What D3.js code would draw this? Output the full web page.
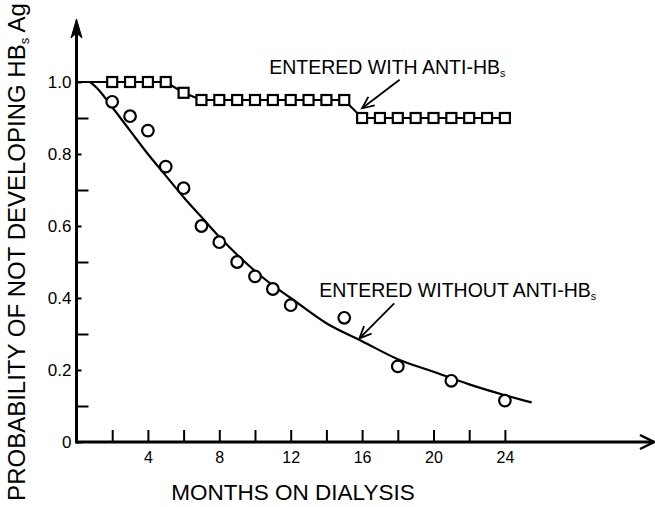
<!DOCTYPE html>
<html>
<head>
<meta charset="utf-8">
<script src="https://cdn.jsdelivr.net/npm/d3@7"></script>
<style>
  body { margin: 0; background: #fff; }
  svg { display: block; }
  text { font-family: "Liberation Sans", Arial, sans-serif; fill: #000; }
</style>
</head>
<body>
<div class="canvas"></div>
<script>
// data
const withAntiMonths = [2, 3, 4, 5, 6, 7, 8, 9, 10, 11, 12, 13, 14, 15, 16, 17, 18, 19, 20, 21, 22, 23, 24];
const withAntiValues = [1.0, 1.0, 1.0, 1.0, 0.97, 0.95, 0.95, 0.95, 0.95, 0.95, 0.95, 0.95, 0.95, 0.95,
                        0.9, 0.9, 0.9, 0.9, 0.9, 0.9, 0.9, 0.9, 0.9];
const withAntiStart = [0, 1.0];

const withoutMonths = [2, 3, 4, 5, 6, 7, 8, 9, 10, 11, 12, 15, 18, 21, 24];
const withoutValues = [0.945, 0.905, 0.865, 0.765, 0.705, 0.60, 0.555, 0.50, 0.46, 0.425, 0.38, 0.345, 0.21, 0.17, 0.115];

// smooth fitted curve through the open circles
const fitMonths = [0, 0.7, 1, 2, 3, 4, 5, 6, 7, 8, 9, 10, 11, 12, 14, 16, 18, 20, 22, 24, 25.5];
const fitValues = [1.0, 1.0, 0.99, 0.93, 0.865, 0.80, 0.74, 0.68, 0.625, 0.57, 0.52, 0.475, 0.435, 0.40,
                   0.33, 0.28, 0.23, 0.195, 0.16, 0.13, 0.11];

const xTicks = [2, 4, 6, 8, 10, 12, 14, 16, 18, 20, 22, 24];
const xLabels = [4, 8, 12, 16, 20, 24];
const yMajor = [0, 0.2, 0.4, 0.6, 0.8, 1.0];
const yMinor = [0.1, 0.3, 0.5, 0.7, 0.9];

const xTitle = 'MONTHS ON DIALYSIS';
const yTitle = ['PROBABILITY OF NOT DEVELOPING HB', 's', ' Ag'];
const labelWith = ['ENTERED WITH ANTI-HB', 's'];
const labelWithout = ['ENTERED WITHOUT ANTI-HB', 's'];

const width = 655, height = 507;
const font = '"Liberation Sans", Arial, sans-serif';

const svg = d3.select('.canvas')
    .append('svg')
    .attr('width', width)
    .attr('height', height);

// scales
const x = d3.scaleLinear().domain([0, 24]).range([76.5, 504.9]);
const y = d3.scaleLinear().domain([0, 1]).range([442, 82]);

// x axis ticks (pointing up)
const xAxis = d3.axisBottom(x)
    .tickValues(xTicks)
    .tickSizeInner(-12)
    .tickSizeOuter(0)
    .tickPadding(10)
    .tickFormat(d => xLabels.includes(d) ? d : '');

const xAxisGroup = svg.append('g')
    .attr('transform', `translate(0, ${y(0)})`)
    .call(xAxis)
    .attr('font-family', font)
    .attr('font-size', 16);
xAxisGroup.select('.domain').remove();
xAxisGroup.selectAll('line').attr('stroke-width', 2).attr('stroke', '#000');

// y axis, major ticks short, minor ticks long
const yAxis = d3.axisLeft(y)
    .tickValues(yMajor)
    .tickSizeInner(-5)
    .tickSizeOuter(0)
    .tickPadding(5)
    .tickFormat(d => d === 0 ? '0' : d3.format('.1f')(d));

const yAxisGroup = svg.append('g')
    .attr('transform', `translate(${x(0)}, 0)`)
    .call(yAxis)
    .attr('font-family', font)
    .attr('font-size', 17);
yAxisGroup.select('.domain').remove();
yAxisGroup.selectAll('line').attr('stroke-width', 2).attr('stroke', '#000');

const yMinorGroup = svg.append('g')
    .attr('transform', `translate(${x(0)}, 0)`)
    .call(d3.axisLeft(y).tickValues(yMinor).tickSizeInner(-12).tickSizeOuter(0).tickFormat(''));
yMinorGroup.select('.domain').remove();
yMinorGroup.selectAll('line').attr('stroke-width', 2).attr('stroke', '#000');

// axis lines with arrows
svg.append('line')
    .attr('x1', x(0)).attr('x2', 654)
    .attr('y1', y(0)).attr('y2', y(0))
    .attr('stroke', '#000').attr('stroke-width', 3);
svg.append('path')
    .attr('d', `M640,${y(0) - 7} L654,${y(0)} L640,${y(0) + 7}`)
    .attr('fill', 'none').attr('stroke', '#000').attr('stroke-width', 2.5);

svg.append('line')
    .attr('x1', x(0)).attr('x2', x(0))
    .attr('y1', y(0) + 1.5).attr('y2', 24)
    .attr('stroke', '#000').attr('stroke-width', 3);
svg.append('path')
    .attr('d', `M${x(0) - 5.5},38 L${x(0)},19 L${x(0) + 5.5},38 L${x(0)},33 Z`)
    .attr('fill', '#000').attr('stroke', '#000').attr('stroke-width', 1);

// fitted curve
const fitData = fitMonths.map((m, i) => ({ m, v: fitValues[i] }));
const line = d3.line()
    .x(d => x(d.m))
    .y(d => y(d.v));

svg.append('path')
    .datum(fitData)
    .attr('fill', 'none')
    .attr('stroke', '#000')
    .attr('stroke-width', 2.2)
    .attr('d', line.curve(d3.curveMonotoneX));

// with anti-HBs step line
const withData = withAntiMonths.map((m, i) => ({ m, v: withAntiValues[i] }));
svg.append('path')
    .datum([{ m: withAntiStart[0], v: withAntiStart[1] }].concat(withData))
    .attr('fill', 'none')
    .attr('stroke', '#000')
    .attr('stroke-width', 2.2)
    .attr('d', d3.line().x(d => x(d.m)).y(d => y(d.v)));

// circles
const withoutData = withoutMonths.map((m, i) => ({ m, v: withoutValues[i] }));
svg.selectAll('circle.pt')
    .data(withoutData)
    .enter()
    .append('circle')
    .attr('class', 'pt')
    .attr('cx', d => x(d.m))
    .attr('cy', d => y(d.v))
    .attr('r', 5.8)
    .attr('fill', '#fff')
    .attr('stroke', '#000')
    .attr('stroke-width', 2.2);

// squares
const sq = 10;
svg.selectAll('rect.pt')
    .data(withData)
    .enter()
    .append('rect')
    .attr('class', 'pt')
    .attr('x', d => x(d.m) - sq / 2)
    .attr('y', d => y(d.v) - sq / 2)
    .attr('width', sq)
    .attr('height', sq)
    .attr('fill', '#fff')
    .attr('stroke', '#000')
    .attr('stroke-width', 2.2);

// annotations (arrow from text to curve)
const arrow = (m1, v1, m2, v2) => {
    const x1 = x(m1), y1 = y(v1), x2 = x(m2), y2 = y(v2);
    const a = Math.atan2(y1 - y2, x1 - x2);
    const len = 13, spread = 0.42;
    svg.append('line')
        .attr('x1', x1).attr('y1', y1).attr('x2', x2).attr('y2', y2)
        .attr('stroke', '#000').attr('stroke-width', 1.8);
    svg.append('path')
        .attr('d', `M${x2 + len * Math.cos(a - spread)},${y2 + len * Math.sin(a - spread)} L${x2},${y2} L${x2 + len * Math.cos(a + spread)},${y2 + len * Math.sin(a + spread)}`)
        .attr('fill', 'none').attr('stroke', '#000').attr('stroke-width', 1.8);
};

const label = (parts, m, v, size) => {
    const t = svg.append('text')
        .attr('x', x(m)).attr('y', y(v))
        .attr('font-size', size);
    t.append('tspan').text(parts[0]);
    t.append('tspan').attr('font-size', size * 0.55).attr('dy', 3).text(parts[1]);
};

arrow(18.1, 1.006, 16.0, 0.927);
label(labelWith, 10.8, 1.022, 19.5);

arrow(17.8, 0.385, 15.85, 0.288);
label(labelWithout, 13.6, 0.404, 19.5);

// axis titles
svg.append('text')
    .attr('x', 293).attr('y', 500)
    .attr('text-anchor', 'middle')
    .attr('font-size', 22.5)
    .text(xTitle);

const yt = svg.append('text')
    .attr('transform', 'translate(25, 252) rotate(-90)')
    .attr('text-anchor', 'middle')
    .attr('font-size', 24);
yt.append('tspan').text(yTitle[0]);
yt.append('tspan').attr('font-size', 13).attr('dy', 4).text(yTitle[1]);
yt.append('tspan').attr('dy', -4).text(yTitle[2]);
</script>
</body>
</html>
